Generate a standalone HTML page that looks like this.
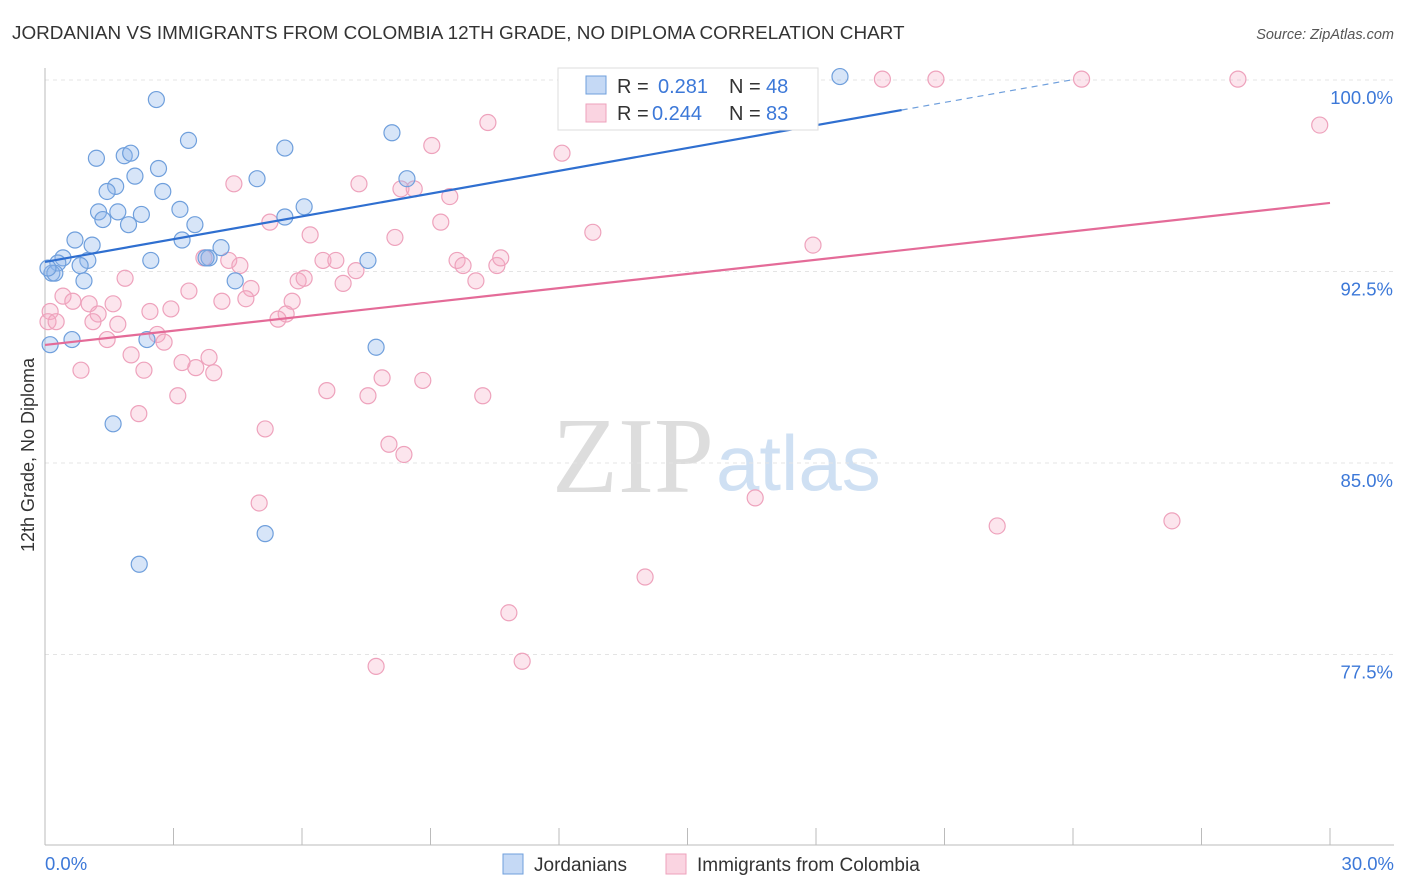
<!DOCTYPE html>
<html><head><meta charset="utf-8"><style>
body{margin:0;background:#fff;font-family:"Liberation Sans",sans-serif;}
#wrap{position:relative;width:1406px;height:892px;overflow:hidden}
</style></head><body>
<div id="wrap">
<svg id="svg" width="1406" height="892" xmlns="http://www.w3.org/2000/svg">
<text x="12" y="39" font-size="18.9" fill="#333">JORDANIAN VS IMMIGRANTS FROM COLOMBIA 12TH GRADE, NO DIPLOMA CORRELATION CHART</text>
<text x="1394" y="39" font-size="14.5" fill="#555" font-style="italic" text-anchor="end">Source: ZipAtlas.com</text>
<text x="34" y="455" font-size="18" fill="#333" text-anchor="middle" transform="rotate(-90 34 455)">12th Grade, No Diploma</text>
<text x="714" y="492" font-size="108" fill="#ddd" text-anchor="end" font-family="Liberation Serif,serif">ZIP</text>
<text x="716" y="490" font-size="78" fill="#cfe0f3">atlas</text>
<g id="grid"></g><g id="marks"></g>
</svg></div>
<script>
const xTicks=[0,30];
const yTicks=[100,92.5,85,77.5];
const blueX=[2.6,1.2,1.85,2.0,3.35,5.6,8.1,2.65,2.1,1.65,1.45,2.75,4.95,8.45,1.25,1.35,1.7,2.25,3.15,1.95,3.5,5.6,6.05,0.7,1.1,0.42,0.3,1.0,0.82,0.16,0.23,0.91,2.47,3.83,3.76,4.11,3.2,7.54,4.44,2.38,0.63,7.73,0.12,1.59,5.14,2.2,18.56,0.07];
const blueY=[99.9,97.6,97.7,97.8,98.3,98.0,98.6,97.2,96.9,96.5,96.3,96.3,96.8,96.8,95.5,95.2,95.5,95.4,95.6,95.0,95.0,95.3,95.7,94.4,94.2,93.7,93.5,93.6,93.4,93.1,93.1,92.8,93.6,93.7,93.7,94.1,94.4,93.6,92.8,90.5,90.5,90.2,90.3,87.2,82.9,81.7,100.8,93.3];
const pinkX=[24.2,27.85,20.8,19.55,13.82,15.29,29.76,10.34,9.03,12.07,4.41,7.33,8.31,8.62,9.45,5.25,9.24,6.19,6.49,8.17,12.79,17.93,9.62,6.79,7.26,9.76,10.55,10.64,3.71,4.29,4.55,1.87,5.91,6.05,6.96,10.06,3.36,4.81,0.42,0.65,1.03,1.59,2.94,4.13,4.69,5.77,2.45,1.24,5.63,5.44,1.12,1.7,0.12,0.07,2.62,1.45,2.78,2.01,3.83,3.2,3.52,0.84,2.31,3.94,7.87,8.82,6.58,7.54,10.22,3.1,2.19,5.14,8.03,8.38,16.58,5.0,22.23,26.31,14.01,10.83,11.14,7.73,0.26];
const pinkY=[100.7,100.7,100.7,100.7,100.7,100.7,98.9,99.0,98.1,97.8,96.6,96.6,96.4,96.4,96.1,95.1,95.1,94.6,93.6,94.5,94.7,94.2,93.6,93.6,93.2,93.4,93.4,93.7,93.7,93.6,93.4,92.9,92.8,92.9,92.7,92.8,92.4,92.5,92.2,92.0,91.9,91.9,91.7,92.0,92.1,92.0,91.6,91.5,91.5,91.3,91.2,91.1,91.6,91.2,90.7,90.5,90.4,89.9,89.8,89.6,89.4,89.3,89.3,89.2,89.0,88.9,88.5,88.3,88.3,88.3,87.6,87.0,86.4,86.0,84.3,84.1,83.2,83.4,81.2,79.8,77.9,77.7,91.2];
const blueLine=[93.54,99.49];const pinkLine=[90.29,95.85];
const sx=v=>45+v*(1285/30);
const sy=v=>97+(100-v)*(191.5/7.5);
const NS="http://www.w3.org/2000/svg";
function mk(t,a,p){const e=document.createElementNS(NS,t);for(const k in a)e.setAttribute(k,a[k]);p.appendChild(e);return e;}
const grid=document.getElementById('grid'),marks=document.getElementById('marks');
yTicks.forEach(v=>{
 const l=mk('line',{x1:45,x2:1394,y1:sy(v)-17,y2:sy(v)-17,stroke:'#e4e4e4','stroke-dasharray':'4,4'},grid);
 
 
 const t=mk('text',{x:1393,y:sy(v)+7,'font-size':18.5,fill:'#3c78d8','text-anchor':'end'},grid);t.textContent=v.toFixed(1)+'%';
 
 
});
mk('line',{x1:45,x2:45,y1:68,y2:845,stroke:'#bbb'},grid);
mk('line',{x1:45,x2:1394,y1:845,y2:845,stroke:'#bbb'},grid);
for(let i=1;i<=10;i++){mk('line',{x1:45+i*128.5,x2:45+i*128.5,y1:828,y2:845,stroke:'#bbb'},grid);}
xTicks.forEach((v,i)=>{const t=mk('text',{x:i?1394:45,y:870,'font-size':18.5,fill:'#3c78d8','text-anchor':i?'end':'start'},grid);t.textContent=v.toFixed(1)+'%';
 
 });
pinkX.forEach((x,i)=>{const c=mk('circle',{cx:sx(x),cy:sy(pinkY[i]),r:8,fill:'rgba(246,170,196,0.3)',stroke:'#eea2bc','stroke-width':1.2},marks);
 
 });
blueX.forEach((x,i)=>{const c=mk('circle',{cx:sx(x),cy:sy(blueY[i]),r:8,fill:'rgba(140,180,235,0.35)',stroke:'#6f9fdc','stroke-width':1.2},marks);
 
 });
const bx2=20;const byAt=x=>blueLine[0]+(blueLine[1]-blueLine[0])*x/bx2;
const bl=mk('line',{x1:sx(0),y1:sy(byAt(0)),x2:sx(bx2),y2:sy(byAt(bx2)),stroke:'#2f6fd0','stroke-width':2.2},marks);


mk('line',{x1:sx(bx2),y1:sy(byAt(bx2)),x2:sx(24),y2:sy(byAt(24)),stroke:'#6f9fdc','stroke-width':1.2,'stroke-dasharray':'6,5'},marks);
const pl=mk('line',{x1:sx(0),y1:sy(pinkLine[0]),x2:sx(30),y2:sy(pinkLine[1]),stroke:'#e46b98','stroke-width':2.2},marks);


const lg=mk('g',{},marks);


mk('rect',{x:558,y:68,width:260,height:62,fill:'#fff',stroke:'#ddd'},lg);
mk('rect',{x:586,y:76,width:20,height:18,fill:'rgba(140,180,235,0.5)',stroke:'#6f9fdc'},lg);
mk('rect',{x:586,y:104,width:20,height:18,fill:'rgba(246,170,196,0.5)',stroke:'#eea2bc'},lg);
function lt(x,y,s,c){const t=mk('text',{x:x,y:y,'font-size':20,fill:c},lg);t.textContent=s;return t;}
lt(617,93,'R =','#333');lt(658,93,'0.281','#3c78d8');lt(729,93,'N =','#333');lt(766,93,'48','#3c78d8');
lt(617,120,'R =','#333');lt(652,120,'0.244','#3c78d8');lt(729,120,'N =','#333');lt(766,120,'83','#3c78d8');
const bl2=mk('g',{},marks);


mk('rect',{x:503,y:854,width:20,height:20,fill:'rgba(140,180,235,0.5)',stroke:'#6f9fdc'},bl2);
mk('rect',{x:666,y:854,width:20,height:20,fill:'rgba(246,170,196,0.5)',stroke:'#eea2bc'},bl2);
let t1=mk('text',{x:534,y:871,'font-size':19,fill:'#333'},bl2);t1.textContent='Jordanians';
let t2=mk('text',{x:697,y:871,'font-size':19,fill:'#333'},bl2);t2.textContent='Immigrants from Colombia';
</script></body></html>
